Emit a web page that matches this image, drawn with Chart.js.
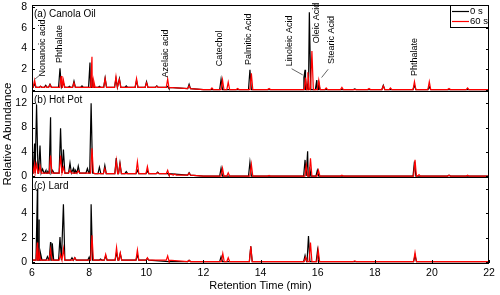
<!DOCTYPE html>
<html>
<head>
<meta charset="utf-8">
<script src="https://cdn.jsdelivr.net/npm/chart.js@4"></script>
<style>
  html, body { margin: 0; padding: 0; background: #fff; }
  canvas { display: block; }
</style>
</head>
<body>
<canvas id="gcChart" width="500" height="295"></canvas>
<script>
// --- chromatogram data (retention time in min, relative abundance) ---
const xTickValues = [6, 8, 10, 12, 14, 16, 18, 20, 22];
const seriesLabels = ['0 s', '60 s'];
const panelTitles = ['(a) Canola Oil', '(b) Hot Pot', '(c) Lard'];

// (a) Canola Oil
const canolaTicks = [0, 2, 4, 6, 8];
const canolaBaseTimes = [6.03, 10.8, 12.0];
const canolaBaseLevels = [0.25, 0.12, 0.04];
const canolaTimes0 = [6.09, 6.30, 6.48, 6.63, 6.98, 7.10, 7.31, 7.47, 7.75, 8.03, 8.10, 8.36, 8.56, 8.94, 9.06, 9.30, 9.66, 10.01, 10.37, 10.75, 11.50, 12.62, 13.63, 15.52, 15.56, 15.63, 15.71, 15.97, 16.03, 17.30, 18.30, 19.39, 19.91];
const canolaHeights0 = [0.60, 0.35, 0.45, 0.55, 2.10, 0.70, 0.35, 0.85, 0.40, 2.65, 1.20, 0.35, 1.15, 1.10, 1.10, 0.40, 0.90, 0.80, 0.40, 0.35, 0.55, 1.05, 1.95, 1.20, 1.95, 0.60, 7.50, 0.95, 0.90, 0.10, 0.45, 0.45, 0.30];
const canolaTimes60 = [6.09, 6.30, 6.48, 6.63, 7.02, 7.10, 7.47, 8.10, 8.16, 8.56, 8.94, 9.06, 9.66, 10.01, 10.37, 10.75, 11.50, 12.30, 12.67, 12.87, 13.20, 13.68, 14.30, 15.58, 15.66, 15.80, 16.04, 16.30, 16.85, 17.80, 18.30, 18.55, 19.39, 19.91, 20.60, 21.25];
const canolaHeights60 = [0.95, 0.35, 0.35, 0.50, 1.35, 0.95, 0.70, 3.20, 0.90, 1.10, 1.30, 1.00, 1.10, 0.70, 0.35, 1.05, 0.40, 0.20, 1.00, 0.75, 0.15, 1.60, 0.15, 1.20, 1.70, 3.75, 0.95, 0.20, 0.25, 0.15, 0.40, 0.20, 0.80, 0.80, 0.15, 0.20];

// (b) Hot Pot
const hotPotTicks = [0, 4, 8, 12];
const hotPotBaseTimes = [6.03, 8.2, 10.8, 12.0];
const hotPotBaseLevels = [0.55, 0.45, 0.2, 0.05];
const hotPotTimes0 = [6.09, 6.16, 6.28, 6.37, 6.49, 6.55, 6.65, 6.72, 7.00, 7.10, 7.33, 7.45, 7.52, 7.62, 7.94, 8.07, 8.36, 8.55, 8.95, 9.08, 9.30, 9.69, 10.04, 10.40, 10.75, 11.50, 12.62, 13.63, 15.56, 15.65, 15.72, 15.99, 19.39, 20.60];
const hotPotHeights0 = [5.40, 11.70, 5.05, 1.20, 1.00, 0.80, 9.70, 1.00, 7.90, 4.40, 2.20, 1.30, 1.00, 1.70, 1.30, 12.00, 1.50, 1.80, 3.00, 2.20, 0.80, 1.00, 0.90, 0.70, 0.50, 0.60, 1.35, 2.30, 2.70, 4.10, 1.50, 1.00, 2.45, 0.20];
const hotPotTimes60 = [6.09, 6.16, 6.28, 6.65, 7.00, 7.10, 7.33, 7.62, 8.10, 8.55, 8.95, 9.08, 9.69, 10.04, 10.40, 10.75, 11.00, 11.50, 12.67, 12.87, 13.68, 14.30, 15.60, 15.75, 16.03, 16.85, 19.41, 19.55, 20.60, 21.25];
const hotPotHeights60 = [2.00, 2.00, 1.70, 3.40, 3.40, 1.50, 1.00, 0.90, 4.60, 1.30, 2.60, 2.00, 2.40, 1.60, 0.60, 1.00, 0.40, 0.50, 1.35, 0.60, 2.00, 0.15, 1.80, 2.95, 1.00, 0.20, 2.70, 0.30, 0.20, 0.20];

// (c) Lard
const lardTicks = [0, 2, 4, 6];
const lardBaseTimes = [6.03, 10.8];
const lardBaseLevels = [0.15, 0.04];
const lardTimes0 = [6.19, 6.25, 6.30, 6.54, 6.65, 6.71, 6.98, 7.10, 7.40, 7.50, 8.00, 8.07, 8.40, 8.58, 8.96, 9.09, 9.69, 10.04, 11.50, 12.62, 13.66, 15.56, 15.68, 16.00, 19.41];
const lardHeights0 = [6.05, 3.50, 0.70, 0.45, 1.65, 1.55, 2.05, 4.75, 0.35, 0.35, 0.40, 4.75, 0.25, 0.50, 0.80, 0.70, 0.60, 0.30, 0.15, 0.45, 1.30, 0.55, 2.15, 1.00, 0.55];
const lardTimes60 = [6.19, 6.25, 6.65, 7.00, 7.10, 7.50, 8.10, 8.58, 8.96, 9.09, 9.69, 10.04, 10.75, 11.50, 12.68, 12.87, 13.66, 15.58, 15.75, 16.02, 17.30, 19.41];
const lardHeights60 = [1.60, 0.80, 1.05, 0.60, 1.10, 0.35, 2.20, 0.63, 1.20, 0.75, 1.00, 0.35, 0.50, 0.15, 0.70, 0.35, 1.30, 0.40, 1.60, 1.00, 0.10, 0.80];

// compound labels on panel (a): text, time, abundance at the foot of the text
const compoundNames = ['Nonanoic acid', 'Phthalate', 'Azelaic acid', 'Catechol', 'Palmitic Acid', 'Linoleic Acid', 'Oleic Acid', 'Stearic Acid', 'Phthalate'];
const compoundTimes = [6.37, 6.96, 10.68, 12.58, 13.57, 15.03, 15.97, 16.49, 19.39];
const compoundLevels = [1.3, 2.6, 1.2, 2.3, 2.4, 2.3, 4.5, 2.5, 1.35];
// leader lines: [t1, v1, t2, v2]
const leaderLines = [[6.08, 1.0, 6.26, 1.4], [15.09, 2.05, 15.48, 1.45], [16.37, 2.0, 16.14, 1.2]];

const FONT = "Arial, 'Liberation Sans', sans-serif";
const PEAK_HW = 0.05; // half width of a drawn peak, min

// turn a peak list into line points (baseline - apex - baseline)
function buildTrace(times, heights, baseTimes, baseLevels) {
    const levelAt = t => {
        let v = baseLevels[0];
        baseTimes.forEach((bt, i) => { if (t >= bt) v = baseLevels[i]; });
        return v;
    };
    const pts = baseTimes.map((bt, i) => ({ x: bt, y: baseLevels[i] }));
    pts.push({ x: 22, y: levelAt(22) });
    times.forEach((t, i) => {
        const b = levelAt(t);
        pts.push({ x: t - PEAK_HW, y: b }, { x: t, y: heights[i] }, { x: t + PEAK_HW, y: b });
    });
    return pts.sort((a, b) => a.x - b.x);
}

function makeSet(label, color, axis, order, pts) {
    return {
        label: label, data: pts, yAxisID: axis, order: order,
        borderColor: color, backgroundColor: color,
        borderWidth: 1.2, pointRadius: 0, tension: 0, fill: false
    };
}

const panelAxes = ['yA', 'yB', 'yC'];
const panelTicks = { yA: canolaTicks, yB: hotPotTicks, yC: lardTicks };

// --- overlay: frames, inward ticks, labels, legend ---
const overlayPlugin = {
    id: 'overlay',
    afterDraw(chart) {
        const ctx = chart.ctx;
        const area = chart.chartArea;
        const xs = chart.scales.x;
        ctx.save();
        ctx.strokeStyle = '#000';
        ctx.fillStyle = '#000';
        ctx.lineWidth = 1;

        panelAxes.forEach((id, p) => {
            const ys = chart.scales[id];
            ctx.strokeRect(area.left + 0.5, Math.round(ys.top) + 0.5, area.right - area.left - 1, Math.round(ys.bottom - ys.top));
            panelTicks[id].forEach(v => {
                const py = Math.round(ys.getPixelForValue(v)) + 0.5;
                ctx.beginPath();
                ctx.moveTo(area.left, py); ctx.lineTo(area.left + 3, py);
                ctx.moveTo(area.right, py); ctx.lineTo(area.right - 3, py);
                ctx.stroke();
            });
            ctx.font = '10px ' + FONT;
            ctx.textAlign = 'left';
            ctx.textBaseline = 'middle';
            ctx.fillText(panelTitles[p], area.left + 2, ys.top + 9);
        });

        // x ticks on bottom panel
        xTickValues.forEach(v => {
            const px = Math.round(xs.getPixelForValue(v)) + 0.5;
            ctx.beginPath();
            ctx.moveTo(px, area.bottom); ctx.lineTo(px, area.bottom - 3);
            ctx.stroke();
        });

        // compound names on panel (a)
        const ya = chart.scales.yA;
        ctx.font = '9px ' + FONT;
        ctx.textAlign = 'left';
        ctx.textBaseline = 'middle';
        compoundNames.forEach((name, i) => {
            ctx.save();
            ctx.translate(xs.getPixelForValue(compoundTimes[i]), ya.getPixelForValue(compoundLevels[i]));
            ctx.rotate(-Math.PI / 2);
            ctx.fillText(name, 0, 0);
            ctx.restore();
        });
        ctx.strokeStyle = '#666';
        leaderLines.forEach(l => {
            ctx.beginPath();
            ctx.moveTo(xs.getPixelForValue(l[0]), ya.getPixelForValue(l[1]));
            ctx.lineTo(xs.getPixelForValue(l[2]), ya.getPixelForValue(l[3]));
            ctx.stroke();
        });

        // y axis title
        ctx.fillStyle = '#000';
        ctx.font = '11.5px ' + FONT;
        ctx.textAlign = 'center';
        ctx.save();
        ctx.translate(8, (area.top + area.bottom) / 2);
        ctx.rotate(-Math.PI / 2);
        ctx.fillText('Relative Abundance', 0, 0);
        ctx.restore();

        // legend box, top right
        const lw = 39, lx = area.right - lw, ly = area.top;
        ctx.fillStyle = '#fff';
        ctx.fillRect(lx, ly, lw, 22);
        ctx.strokeStyle = '#000';
        ctx.strokeRect(lx + 0.5, ly + 0.5, lw - 1, 22);
        ctx.font = '9.5px ' + FONT;
        ctx.textAlign = 'left';
        ctx.fillStyle = '#000';
        [chart.data.datasets[0], chart.data.datasets[1]].forEach((ds, i) => {
            const yy = ly + 6.5 + i * 10;
            ctx.strokeStyle = ds.borderColor;
            ctx.lineWidth = 1.2;
            ctx.beginPath();
            ctx.moveTo(lx + 2, yy); ctx.lineTo(lx + 19, yy);
            ctx.stroke();
            ctx.fillText(ds.label, lx + 20, yy);
        });
        ctx.restore();
    }
};

function yAxis(id, min, max) {
    return {
        type: 'linear', position: 'left', stack: 'panels', stackWeight: 1,
        min: min, max: max, offset: false,
        afterFit: s => { s.width = 32; s.paddingTop = 0; s.paddingBottom = 0; },
        afterBuildTicks: s => { s.ticks = panelTicks[id].map(v => ({ value: v })); },
        grid: { display: false, drawTicks: false },
        border: { display: false },
        ticks: { color: '#000', padding: 5, autoSkip: false, font: { family: FONT, size: 10.5 } }
    };
}

new Chart(document.getElementById('gcChart'), {
    type: 'line',
    data: {
        datasets: [
            makeSet(seriesLabels[0], '#000000', 'yA', 1, buildTrace(canolaTimes0, canolaHeights0, canolaBaseTimes, canolaBaseLevels)),
            makeSet(seriesLabels[1], '#ff0000', 'yA', 0, buildTrace(canolaTimes60, canolaHeights60, canolaBaseTimes, canolaBaseLevels)),
            makeSet(seriesLabels[0], '#000000', 'yB', 1, buildTrace(hotPotTimes0, hotPotHeights0, hotPotBaseTimes, hotPotBaseLevels)),
            makeSet(seriesLabels[1], '#ff0000', 'yB', 0, buildTrace(hotPotTimes60, hotPotHeights60, hotPotBaseTimes, hotPotBaseLevels)),
            makeSet(seriesLabels[0], '#000000', 'yC', 1, buildTrace(lardTimes0, lardHeights0, lardBaseTimes, lardBaseLevels)),
            makeSet(seriesLabels[1], '#ff0000', 'yC', 0, buildTrace(lardTimes60, lardHeights60, lardBaseTimes, lardBaseLevels))
        ]
    },
    options: {
        responsive: false,
        animation: false,
        layout: { padding: { left: 0, right: 11, top: 5, bottom: 0 } },
        plugins: { legend: { display: false }, tooltip: { enabled: false } },
        scales: {
            x: {
                type: 'linear', min: 6, max: 22,
                afterBuildTicks: s => { s.ticks = xTickValues.map(v => ({ value: v })); },
                afterFit: s => { s.height = 32; s.paddingLeft = 0; s.paddingRight = 0; },
                grid: { display: false, drawTicks: false },
                border: { display: false },
                ticks: { color: '#000', padding: 5, maxRotation: 0, autoSkip: false, font: { family: FONT, size: 10.5, lineHeight: 1 } },
                title: { display: true, text: 'Retention Time (min)', color: '#000', padding: { top: 2, bottom: 2 }, font: { family: FONT, size: 11 } }
            },
            yC: yAxis('yC', -0.08, 7),
            yB: yAxis('yB', -0.1, 14),
            yA: yAxis('yA', -0.1, 8.2)
        }
    },
    plugins: [overlayPlugin]
});
</script>
</body>
</html>
